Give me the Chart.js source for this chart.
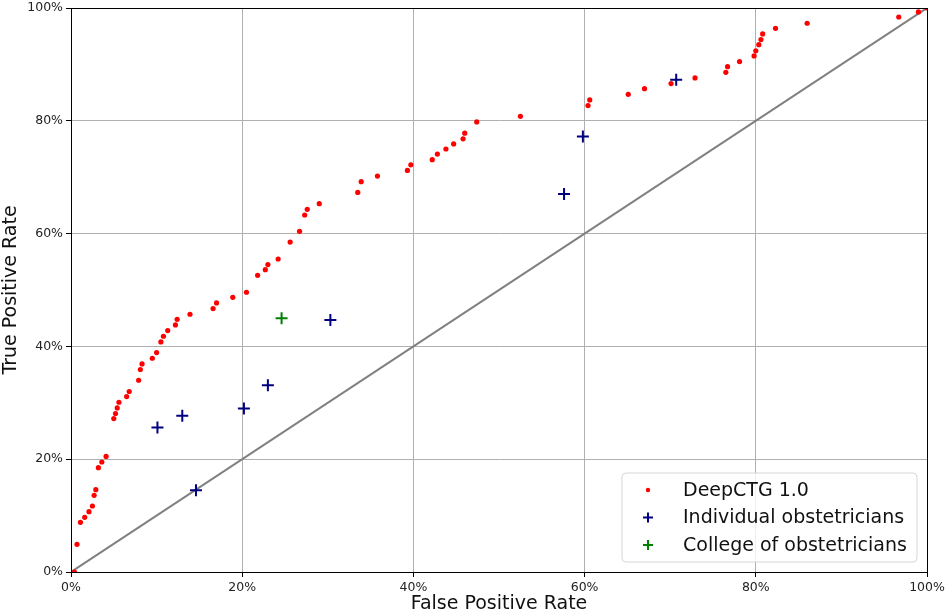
<!DOCTYPE html>
<html>
<head>
<meta charset="utf-8">
<script src="https://cdn.jsdelivr.net/npm/chart.js@4.4.0/dist/chart.umd.min.js"></script>
<style>
html,body{margin:0;padding:0;background:#fff;}
canvas{display:block;}
</style>
</head>
<body>
<canvas id="c" width="945" height="615"></canvas>
<script>
// DeepCTG 1.0 ROC points (FPR %, TPR %)
const deepFpr = [0.4,0.7,1.1,1.6,2.1,2.5,2.7,2.9,3.2,3.6,4.1,5.0,5.2,5.4,5.6,6.5,6.8,7.9,8.1,8.3,9.5,10.0,10.5,10.8,11.3,12.2,12.4,13.9,16.6,17.0,18.9,20.5,21.8,22.7,23.0,24.2,25.6,26.7,27.3,27.6,29.0,33.5,33.9,35.8,39.3,39.7,42.2,42.8,43.8,44.7,45.8,46.0,47.4,52.5,60.4,60.6,65.1,67.0,70.1,72.9,76.5,76.7,78.1,79.8,80.0,80.35,80.6,80.8,82.3,86.0,96.7,99.0,100];
const deepTpr = [0,4.9,8.8,9.7,10.7,11.7,13.6,14.6,18.5,19.5,20.5,27.2,28.1,29.1,30.1,31.1,32.0,34.0,35.9,36.9,37.9,38.9,40.8,41.8,42.8,43.8,44.8,45.7,46.7,47.7,48.7,49.6,52.6,53.6,54.5,55.5,58.5,60.4,63.3,64.3,65.3,67.3,69.2,70.2,71.2,72.2,73.1,74.1,75.0,75.9,76.8,77.8,79.8,80.8,82.7,83.7,84.7,85.7,86.6,87.6,88.6,89.6,90.5,91.5,92.4,93.5,94.4,95.4,96.4,97.3,98.4,99.3,100];
// Individual obstetricians
const obsFpr = [10.1,13.0,14.6,20.2,23.0,30.3,57.6,59.8,70.7];
const obsTpr = [25.6,27.7,14.5,29.0,33.1,44.7,67.0,77.2,87.3];
// College of obstetricians
const colFpr = [24.6];
const colTpr = [45.0];
// Chance diagonal
const diagX = [0,100];
const diagY = [0,100];
// Labels
const seriesLabels = ["DeepCTG 1.0","Individual obstetricians","College of obstetricians"];
const tickValues = [0,20,40,60,80,100];
const xTitle = "False Positive Rate";
const yTitle = "True Positive Rate";

const zip = (xs, ys) => xs.map((x, i) => ({x: x, y: ys[i]}));
const FONT = "'DejaVu Sans', sans-serif";

const framePlugin = {
  id: 'frame',
  afterDraw(chart) {
    const {ctx, chartArea: a} = chart;
    ctx.save();
    ctx.strokeStyle = '#000';
    ctx.lineWidth = 1;
    ctx.strokeRect(Math.round(a.left) + 0.5, Math.round(a.top) + 0.5, Math.round(a.right - a.left), Math.round(a.bottom - a.top));
    // legend box
    const bw = 295, bh = 89;
    const bx = a.right - 10 - bw, by = a.bottom - 10 - bh;
    const r = 4;
    ctx.beginPath();
    ctx.moveTo(bx + r, by);
    ctx.lineTo(bx + bw - r, by);
    ctx.quadraticCurveTo(bx + bw, by, bx + bw, by + r);
    ctx.lineTo(bx + bw, by + bh - r);
    ctx.quadraticCurveTo(bx + bw, by + bh, bx + bw - r, by + bh);
    ctx.lineTo(bx + r, by + bh);
    ctx.quadraticCurveTo(bx, by + bh, bx, by + bh - r);
    ctx.lineTo(bx, by + r);
    ctx.quadraticCurveTo(bx, by, bx + r, by);
    ctx.closePath();
    ctx.fillStyle = 'rgba(255,255,255,0.8)';
    ctx.fill();
    ctx.strokeStyle = '#d6d6d6';
    ctx.stroke();
    const ds = chart.data.datasets.filter(d => !d.hideInLegend);
    ctx.font = '19px ' + FONT;
    ctx.textBaseline = 'middle';
    ds.forEach((d, i) => {
      const cy = by + 17 + i * 27.5;
      const mx = bx + 26;
      ctx.fillStyle = d.pointBackgroundColor;
      ctx.strokeStyle = d.pointBorderColor;
      if (d.pointStyle === 'circle') {
        ctx.beginPath();
        ctx.arc(mx, cy, 2.2, 0, Math.PI * 2);
        ctx.fill();
      } else {
        ctx.lineWidth = 2;
        ctx.beginPath();
        ctx.moveTo(mx - 5, cy); ctx.lineTo(mx + 5, cy);
        ctx.moveTo(mx, cy - 5); ctx.lineTo(mx, cy + 5);
        ctx.stroke();
      }
      ctx.fillStyle = '#111';
      ctx.fillText(d.label, bx + 61, cy + 1);
    });
    ctx.restore();
  }
};

const axisCommon = {
  type: 'linear',
  min: 0, max: 100,
  afterBuildTicks(scale) { scale.ticks = tickValues.map(v => ({value: v})); },
  grid: { color: '#b0b0b0', lineWidth: 1, tickLength: 5, tickColor: '#000', drawTicks: true },
  border: { color: '#000', width: 1 },
  ticks: { color: '#222', font: { family: FONT, size: 12.5 }, callback: v => v + '%', maxRotation: 0, autoSkip: false }
};

new Chart(document.getElementById('c'), {
  data: {
    datasets: [
      { type: 'scatter', label: seriesLabels[0], data: zip(deepFpr, deepTpr), pointStyle: 'circle', pointRadius: 2.6, pointHoverRadius: 2.6, pointBackgroundColor: '#ff0000', pointBorderColor: '#ff0000', pointBorderWidth: 0, order: 3 },
      { type: 'scatter', label: seriesLabels[1], data: zip(obsFpr, obsTpr), pointStyle: 'cross', pointRadius: 6, pointHoverRadius: 6, pointBackgroundColor: '#000080', pointBorderColor: '#000080', pointBorderWidth: 2, order: 2 },
      { type: 'scatter', label: seriesLabels[2], data: zip(colFpr, colTpr), pointStyle: 'cross', pointRadius: 6, pointHoverRadius: 6, pointBackgroundColor: '#008000', pointBorderColor: '#008000', pointBorderWidth: 2, order: 1 },
      { type: 'line', label: 'diagonal', hideInLegend: true, data: zip(diagX, diagY), borderColor: '#808080', borderWidth: 2, pointRadius: 0, fill: false, order: 10 }
    ]
  },
  options: {
    responsive: false,
    animation: false,
    devicePixelRatio: 1,
    layout: { padding: { top: 5, right: 18, left: 0, bottom: 0 } },
    plugins: { legend: { display: false }, tooltip: { enabled: false } },
    scales: {
      x: Object.assign({}, axisCommon, {
        position: 'bottom',
        ticks: Object.assign({}, axisCommon.ticks, { padding: 3 }),
        title: { display: true, text: xTitle, color: '#111', font: { family: FONT, size: 19 }, padding: { top: 0, bottom: 0 } },
        afterFit(s) { s.height = 43; s.paddingLeft = 0; s.paddingRight = 0; }
      }),
      y: Object.assign({}, axisCommon, {
        position: 'left',
        ticks: Object.assign({}, axisCommon.ticks, { padding: 3 }),
        title: { display: true, text: yTitle, color: '#111', font: { family: FONT, size: 19 }, padding: { top: 0, bottom: 0 } },
        afterFit(s) { s.width = 71; s.paddingTop = 0; s.paddingBottom = 0; }
      })
    }
  },
  plugins: [framePlugin]
});
</script>
</body>
</html>
